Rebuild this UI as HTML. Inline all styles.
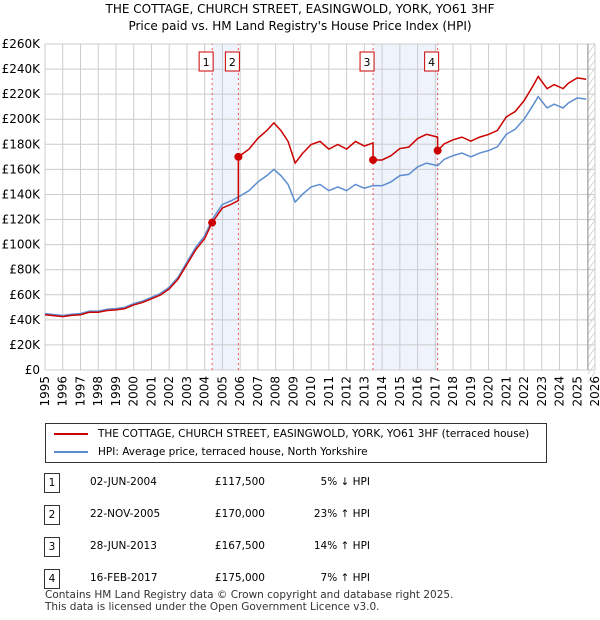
<!DOCTYPE html>
<html><head><meta charset="utf-8"><style>
body{margin:0;background:#fff;font-family:"DejaVu Sans","Liberation Sans",sans-serif;}
#wrap{position:relative;width:600px;height:620px;overflow:hidden}
.t{position:absolute;font-size:12px;color:#000}
</style></head><body><div id="wrap">
<div class="t" style="left:0;width:600px;top:2px;text-align:center;font-size:12px">THE COTTAGE, CHURCH STREET, EASINGWOLD, YORK, YO61 3HF</div>
<div class="t" style="left:0;width:600px;top:19px;text-align:center;font-size:12px">Price paid vs. HM Land Registry's House Price Index (HPI)</div>
<svg id="svg" width="600" height="420" style="position:absolute;left:0;top:0"></svg>
<div style="position:absolute;left:45px;top:423px;width:500px;height:38px;border:1px solid #333;font-size:10.5px">
<div style="position:absolute;left:8px;top:4px"><span style="display:inline-block;width:34px;height:2px;background:#cc0000;vertical-align:middle;margin-right:10px"></span>THE COTTAGE, CHURCH STREET, EASINGWOLD, YORK, YO61 3HF (terraced house)</div>
<div style="position:absolute;left:8px;top:22px"><span style="display:inline-block;width:34px;height:2px;background:#5b8dd0;vertical-align:middle;margin-right:10px"></span>HPI: Average price, terraced house, North Yorkshire</div>
</div>
<div id="tbl"></div>
<div class="t" style="left:45px;top:589px;font-size:10.5px;color:#333;line-height:12px">Contains HM Land Registry data © Crown copyright and database right 2025.<br>This data is licensed under the Open Government Licence v3.0.</div>
</div>
<script>
const hpiYears=[1995,1996,1996.5,1997,1997.5,1998,1998.5,1999,1999.5,2000,2000.5,2001,2001.5,2002,2002.5,2003,2003.5,2004,2004.42,2005,2005.5,2005.9,2006.5,2007,2007.5,2007.9,2008.3,2008.7,2009.1,2009.5,2010,2010.5,2011,2011.5,2012,2012.5,2013,2013.49,2014,2014.5,2015,2015.5,2016,2016.5,2017.13,2017.5,2018,2018.5,2019,2019.5,2020,2020.5,2021,2021.5,2022,2022.5,2022.8,2023.3,2023.7,2024.2,2024.5,2025,2025.5];
const hpiValues=[45,43.5,44.5,45,47,47,48.5,49,50,53,55,58,61,66,74,86,98,107,120,132,135,138,143,150,155,160,155,148,134,140,146,148,143,146,143,148,145,147,147,150,155,156,162,165,163,168,171,173,170,173,175,178,188,192,200,211,218,209,212,209,213,217,216];
const saleDates=[2004.42,2005.9,2013.49,2017.13];
const salePrices=[117.5,170,167.5,175];
const saleLabels=["1","2","3","4"];
const tableDates=["02-JUN-2004","22-NOV-2005","28-JUN-2013","16-FEB-2017"];
const tablePrices=["£117,500","£170,000","£167,500","£175,000"];
const tableHpi=["5% ↓ HPI","23% ↑ HPI","14% ↑ HPI","7% ↑ HPI"];
const yTicks=[0,20,40,60,80,100,120,140,160,180,200,220,240,260];
const xTicks=[1995,1996,1997,1998,1999,2000,2001,2002,2003,2004,2005,2006,2007,2008,2009,2010,2011,2012,2013,2014,2015,2016,2017,2018,2019,2020,2021,2022,2023,2024,2025,2026];
const X=y=>45+(y-1995)*(550/31), Y=v=>370-v*(326/260);
const FF='DejaVu Sans,Liberation Sans,sans-serif';
const svg=document.getElementById('svg'),NS='http://www.w3.org/2000/svg';
function mk(t,a,p){const e=document.createElementNS(NS,t);for(const k in a)e.setAttribute(k,a[k]);(p||svg).appendChild(e);return e;}
for(let i=0;i<saleDates.length;i+=2){const r=mk('rect',{x:X(saleDates[i]),y:Y(260),width:X(saleDates[i+1])-X(saleDates[i]),height:Y(0)-Y(260),fill:'#eef3fc'});

}
const hx=X(2025.6);
const hatch=mk('g',{});


for(let y=Y(260);y<Y(0)+10;y+=8)mk('line',{x1:hx,y1:y+10,x2:X(2026),y2:y,stroke:'#ccc','stroke-width':0.7},hatch);
yTicks.forEach(v=>{const l=mk('line',{x1:45,x2:X(2026),y1:Y(v),y2:Y(v),stroke:'#ccc'});


const t=mk('text',{x:40,y:Y(v)+4,'text-anchor':'end','font-size':12,'font-family':FF});t.textContent=v===0?'£0':'£'+v+'K';

});
xTicks.forEach(yr=>{mk('line',{x1:X(yr),x2:X(yr),y1:Y(0),y2:Y(260),stroke:'#ccc'});
const t=mk('text',{transform:`translate(${X(yr)+4},${Y(0)+6}) rotate(-90)`,'text-anchor':'end','font-size':12,'font-family':FF});t.textContent=yr;

});
mk('line',{x1:hx,y1:Y(0),x2:hx,y2:Y(260),stroke:'#888','stroke-width':1});
function hpiAt(t){for(let i=1;i<hpiYears.length;i++)if(t<=hpiYears[i]){const f=(t-hpiYears[i-1])/(hpiYears[i]-hpiYears[i-1]);return hpiValues[i-1]+f*(hpiValues[i]-hpiValues[i-1]);}return hpiValues[hpiValues.length-1];}
saleDates.forEach((d,i)=>{mk('line',{x1:X(d),x2:X(d),y1:Y(0),y2:Y(260),stroke:'#e55','stroke-dasharray':'2,3','stroke-width':1});
const g=mk('g',{});


mk('rect',{x:X(d)-13,y:52,width:14,height:19,fill:'#fff',stroke:'#cc0000'},g);
const t=mk('text',{x:X(d)-6,y:66,'text-anchor':'middle','font-size':11,'font-family':FF},g);t.textContent=saleLabels[i];});
const hp=mk('polyline',{points:hpiYears.map((y,i)=>X(y)+','+Y(hpiValues[i])).join(' '),fill:'none',stroke:'#5b8dd0','stroke-width':1.5});


const pts=[];
hpiYears.forEach(y=>{let k=-1;saleDates.forEach((d,i)=>{if(y>=d)k=i;});
const ratio=k<0?salePrices[0]/hpiAt(saleDates[0]):salePrices[k]/hpiAt(saleDates[k]);
pts.push([y,hpiAt(y)*ratio]);});
const full=[];saleDates.forEach((d,i)=>{full.push([d-0.001,hpiAt(d)*(i===0?salePrices[0]/hpiAt(d):salePrices[i-1]/hpiAt(saleDates[i-1]))]);full.push([d,salePrices[i]]);});
const all=pts.concat(full).sort((a,b)=>a[0]-b[0]);
const pp=mk('polyline',{points:all.map(p=>X(p[0])+','+Y(p[1])).join(' '),fill:'none',stroke:'#cc0000','stroke-width':1.5});


saleDates.forEach((d,i)=>{const c=mk('circle',{cx:X(d),cy:Y(salePrices[i]),r:4,fill:'#cc0000'});

});
const tbl=document.getElementById('tbl');
saleLabels.forEach((l,i)=>{const top=473+i*32;
const row=document.createElement('div');


row.style.cssText=`position:absolute;left:0;top:${top}px;width:600px;height:20px;font-size:10.5px`;
row.innerHTML=`<span style="position:absolute;left:44px;top:0;width:14px;height:18px;border:1px solid #333;text-align:center;line-height:18px">${l}</span><span style="position:absolute;left:90px;top:3px">${tableDates[i]}</span><span style="position:absolute;left:200px;width:65px;text-align:right;top:3px">${tablePrices[i]}</span><span style="position:absolute;left:270px;width:100px;text-align:right;top:3px">${tableHpi[i]}</span>`;
tbl.appendChild(row);});
</script></body></html>
